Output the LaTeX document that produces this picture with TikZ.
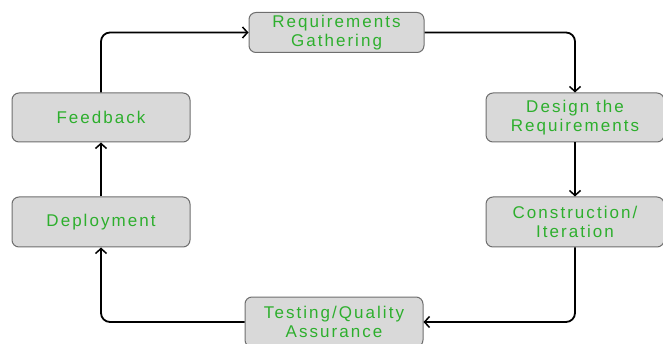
\documentclass[tikz,border=0pt]{standalone}
\usepackage{fontspec}
\setmainfont{Liberation Sans}[LetterSpace=12]
\usetikzlibrary{arrows.meta}
\definecolor{boxfill}{RGB}{217,217,217}
\definecolor{boxline}{RGB}{110,110,110}
\definecolor{txtgreen}{RGB}{45,175,45}
\tikzset{
  stage/.style={draw=boxline, line width=1pt, fill=boxfill, rounded corners=7pt,
    minimum width=178pt, minimum height=49pt, inner sep=0pt, align=center,
    text=txtgreen, font=\fontsize{17}{18.5}\selectfont},
  flow/.style={draw=black, line width=1.8pt, rounded corners=9pt,
    -{Straight Barb[length=5pt,width=11pt,line width=1.5pt]}}
}
\begin{document}
\begin{tikzpicture}[x=1pt,y=-1pt]
\useasboundingbox (0,0) rectangle (663,344);
\node[stage, minimum width=175pt, minimum height=40pt] (rg) at (336.5,32.5) {Requirements\\Gathering};
\node[stage] (dr) at (575,117.5) {Design the\\Requirements};
\node[stage, minimum height=50pt] (ci) at (575,222) {Construction/\\Iteration};
\node[stage, minimum height=50pt] (tq) at (334,322) {Testing/Quality\\Assurance};
\node[stage, minimum height=50pt] (dp) at (101,222) {Deployment};
\node[stage] (fb) at (101,117.5) {Feedback};
\draw[flow] (rg.east) -| (dr.north);
\draw[flow] (dr.south) -- (ci.north);
\draw[flow] (ci.south) |- (tq.east);
\draw[flow] (tq.west) -| (dp.south);
\draw[flow] (dp.north) -- (fb.south);
\draw[flow] (fb.north) |- (rg.west);
\end{tikzpicture}
\end{document}
